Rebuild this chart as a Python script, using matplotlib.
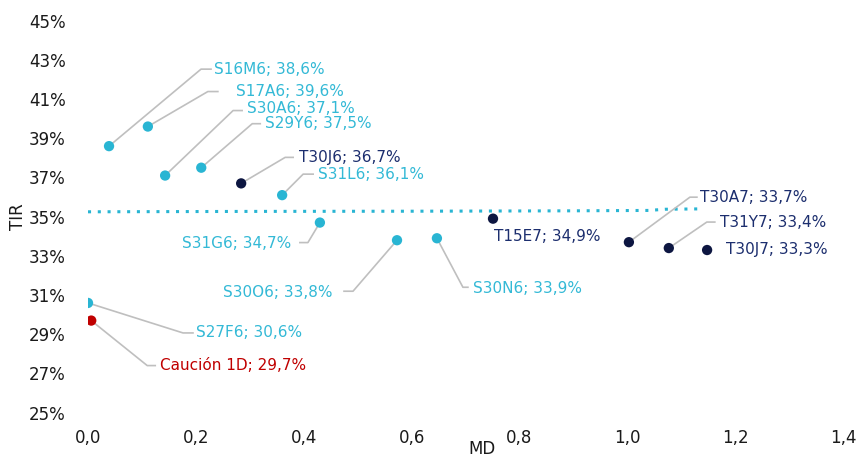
import numpy as np
import matplotlib
matplotlib.use("Agg")
import matplotlib.pyplot as plt
from matplotlib.ticker import FuncFormatter

# --- data ---
names = ["S16M6", "S17A6", "S30A6", "S29Y6", "T30J6", "S31L6", "S31G6",
         "S30O6", "S30N6", "T15E7", "T30A7", "T31Y7", "T30J7", "S27F6",
         "Caución 1D"]
md = [0.039, 0.111, 0.143, 0.210, 0.284, 0.360, 0.430,
      0.573, 0.647, 0.751, 1.003, 1.077, 1.148, 0.000, 0.006]
tir = [38.6, 39.6, 37.1, 37.5, 36.7, 36.1, 34.7,
       33.8, 33.9, 34.9, 33.7, 33.4, 33.3, 30.6, 29.7]
groups = ["S", "S", "S", "S", "T", "S", "S",
          "S", "S", "T", "T", "T", "T", "S", "C"]

# trend line
trend_x = [0.0, 0.3, 0.6, 0.9, 1.04, 1.07, 1.14]
trend_y = [35.25, 35.27, 35.28, 35.30, 35.32, 35.38, 35.40]

x_ticks = [0.0, 0.2, 0.4, 0.6, 0.8, 1.0, 1.2, 1.4]
y_ticks = [25, 27, 29, 31, 33, 35, 37, 39, 41, 43, 45]

point_colors = {"S": "#29B5D3", "T": "#0D1641", "C": "#C00000"}
text_colors = {"S": "#33B9D6", "T": "#1C2E6E", "C": "#C00000"}

# label layout in pixels relative to the point:
# (elbow dx, elbow dy, line end dx, text dx, text dy), None for no leader
layout = [
    (92, 77, 102, 105, 77),     # S16M6
    (60, 35, 70, 88, 35),       # S17A6
    (68, 65, 77, 82, 67),       # S30A6
    (51, 44, 59, 64, 44),       # S29Y6
    (44, 26, 52, 58, 26),       # T30J6
    (21, 21, 31, 36, 21),       # S31L6
    (-12, -20, -20, -138, -21), # S31G6
    (-44, -51, -53, -174, -52), # S30O6
    (26, -49, 31, 36, -50),     # S30N6
    None,                       # T15E7
    (61, 45, 68, 71, 45),       # T30A7
    (38, 26, 46, 51, 26),       # T31Y7
    None,                       # T30J7
    (95, -30, 105, 108, -30),   # S27F6
    (56, -45, 64, 69, -45),     # Caución 1D
]
free_text = {9: (1, -18), 12: (19, 1)}

W, H = 859, 458
fig = plt.figure(figsize=(W / 100, H / 100), dpi=100)
ax = fig.add_axes([88 / W, 1 - 412.7 / H, (843 - 88) / W, (412.7 - 20.7) / H])
ax.set_xlim(0, 1.4)
ax.set_ylim(25, 45)
for s in ax.spines.values():
    s.set_visible(False)
ax.set_xticks(x_ticks)
ax.set_yticks(y_ticks)
ax.xaxis.set_major_formatter(FuncFormatter(lambda v, p: f"{v:.1f}".replace(".", ",")))
ax.yaxis.set_major_formatter(FuncFormatter(lambda v, p: f"{v:.0f}%"))
ax.tick_params(length=0, labelsize=12, colors="#1a1a1a")
ax.tick_params(axis="y", pad=16)
ax.tick_params(axis="x", pad=12)

ax.plot(trend_x, trend_y, ls=(0, (1, 2.2)), lw=2.2, color="#29B5D3", zorder=1)

to_px = ax.transData.transform
to_data = ax.transData.inverted().transform

for i, name in enumerate(names):
    g = groups[i]
    ax.scatter(md[i], tir[i], s=55, color=point_colors[g], zorder=3,
               edgecolors="none")
    px, py = to_px((md[i], tir[i]))
    label = f"{name}; {tir[i]:.1f}%".replace(".", ",")
    if layout[i] is None:
        dx, dy = free_text[i]
    else:
        ex, ey, hx, dx, dy = layout[i]
        pts = to_data([(px, py), (px + ex, py + ey), (px + hx, py + ey)])
        ax.plot(pts[:, 0], pts[:, 1], color="#BFBFBF", lw=1.2, zorder=2)
    tx, ty = to_data((px + dx, py + dy))
    ax.text(tx, ty, label, color=text_colors[g], fontsize=11,
            ha="left", va="center", zorder=4)

fig.text(482 / W, 1 - 449 / H, "MD", ha="center", va="center", fontsize=12,
         color="#1a1a1a")
fig.text(18 / W, 1 - 217 / H, "TIR", ha="center", va="center", rotation=90,
         fontsize=12, color="#1a1a1a")

fig.savefig("out.png", dpi=100)
